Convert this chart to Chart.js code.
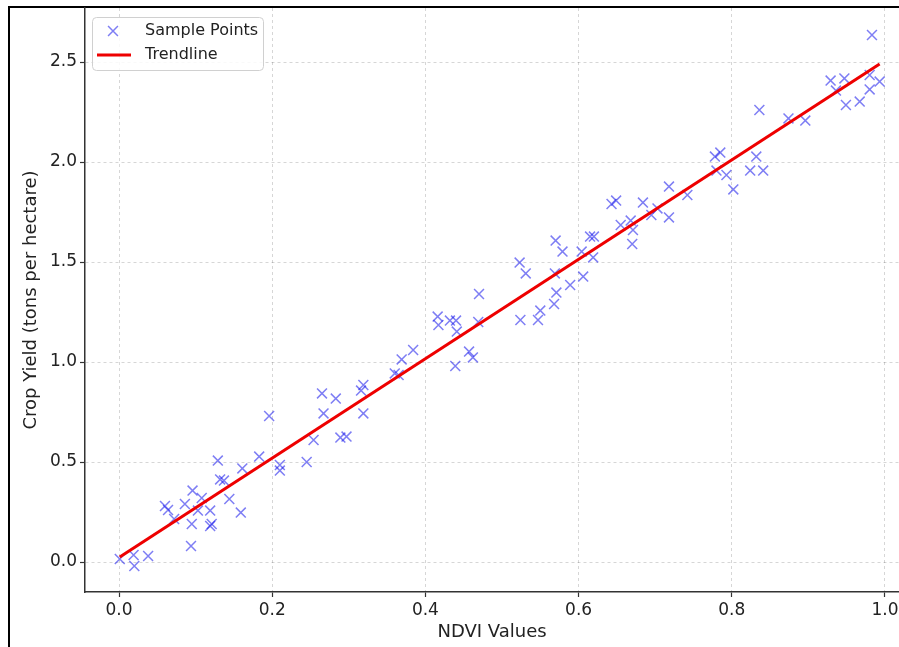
<!DOCTYPE html>
<html>
<head>
<meta charset="utf-8">
<script src="https://cdn.jsdelivr.net/npm/chart.js@4.4.1/dist/chart.umd.min.js"></script>
<style>
  html, body { margin: 0; padding: 0; background: #fff; }
  #wrap { position: relative; width: 899px; height: 647px; overflow: hidden; }
  #frame { position: absolute; left: 8px; top: 6px; right: -2px; bottom: -2px;
           border-left: 2px solid #000; border-top: 2px solid #000; }
  canvas { position: absolute; left: 0; top: 0; }
</style>
</head>
<body>
<div id="wrap">
  <div id="frame"></div>
  <canvas id="chart" width="899" height="647"></canvas>
</div>
<script>
// NDVI sample points
const ndvi = [
  0.001, 0.019, 0.020, 0.038, 0.094, 0.060, 0.064, 0.072, 0.086, 0.096,
  0.108, 0.103, 0.095, 0.119, 0.119, 0.121, 0.129, 0.132, 0.137, 0.144,
  0.159, 0.161, 0.183, 0.210, 0.210, 0.196, 0.245, 0.254, 0.265, 0.267,
  0.283, 0.289, 0.297, 0.316, 0.319, 0.319, 0.360, 0.365, 0.369, 0.384,
  0.416, 0.417, 0.432, 0.440, 0.441, 0.439, 0.457, 0.462, 0.469, 0.470,
  0.524, 0.523, 0.531, 0.547, 0.550, 0.568, 0.571, 0.569, 0.589, 0.606,
  0.570, 0.579, 0.604, 0.615, 0.620, 0.619, 0.655, 0.670, 0.671, 0.643,
  0.649, 0.668, 0.684, 0.695, 0.703, 0.718, 0.718, 0.742, 0.778, 0.785,
  0.780, 0.793, 0.802, 0.824, 0.832, 0.841, 0.836, 0.874, 0.896, 0.929,
  0.936, 0.947, 0.949, 0.967, 0.983, 0.980, 0.980, 0.993
];
const cropYield = [
  0.015, 0.035, -0.020, 0.030, 0.080, 0.280, 0.260, 0.215, 0.290, 0.357,
  0.320, 0.257, 0.190, 0.257, 0.180, 0.190, 0.507, 0.413, 0.407, 0.315,
  0.247, 0.468, 0.527, 0.485, 0.457, 0.730, 0.500, 0.610, 0.843, 0.743,
  0.817, 0.622, 0.627, 0.857, 0.885, 0.743, 0.943, 0.935, 1.013, 1.060,
  1.227, 1.185, 1.207, 1.207, 1.152, 0.980, 1.052, 1.023, 1.200, 1.340,
  1.210, 1.497, 1.443, 1.210, 1.257, 1.290, 1.347, 1.443, 1.385, 1.427,
  1.607, 1.552, 1.552, 1.627, 1.627, 1.523, 1.685, 1.590, 1.660, 1.790,
  1.807, 1.707, 1.797, 1.735, 1.768, 1.723, 1.877, 1.835, 2.027, 2.047,
  1.957, 1.935, 1.863, 1.957, 2.027, 1.957, 2.260, 2.218, 2.207, 2.407,
  2.357, 2.418, 2.285, 2.302, 2.635, 2.435, 2.363, 2.402
];

// trendline end points
const trendX = [0.001, 0.993];
const trendY = [0.025, 2.490];

const xTicks = [0.0, 0.2, 0.4, 0.6, 0.8, 1.0];
const yTicks = [0.0, 0.5, 1.0, 1.5, 2.0, 2.5];

const pointColor = 'rgba(20, 20, 235, 0.55)';
const lineColor = '#ee0000';

const points = ndvi.map((v, i) => ({ x: v, y: cropYield[i] }));
const trend = trendX.map((v, i) => ({ x: v, y: trendY[i] }));

// legend box inside the plot, matplotlib style
const boxLegend = {
  id: 'boxLegend',
  afterDraw(chart) {
    const ctx = chart.ctx;
    ctx.save();
    const x = 92, y = 17, w = 171, h = 53;
    ctx.fillStyle = 'rgba(255,255,255,0.85)';
    ctx.strokeStyle = '#d0d0d0';
    ctx.lineWidth = 1;
    ctx.beginPath();
    ctx.roundRect(x + 0.5, y + 0.5, w, h, 4);
    ctx.fill();
    ctx.stroke();

    ctx.strokeStyle = pointColor;
    ctx.fillStyle = pointColor;
    ctx.lineWidth = 1.5;
    Chart.helpers.drawPoint(ctx, {
      pointStyle: 'crossRot', radius: 7, borderWidth: 1.5, rotation: 0
    }, 113, 31);

    ctx.strokeStyle = lineColor;
    ctx.lineWidth = 3;
    ctx.beginPath();
    ctx.moveTo(97, 55);
    ctx.lineTo(131, 55);
    ctx.stroke();

    ctx.fillStyle = '#222';
    ctx.font = '16px "DejaVu Sans"';
    ctx.textBaseline = 'middle';
    ctx.fillText('Sample Points', 145, 31);
    ctx.fillText('Trendline', 145, 55);
    ctx.restore();
  }
};

function noPad(axis) {
  axis.paddingLeft = 0;
  axis.paddingRight = 0;
  axis.paddingTop = 0;
  axis.paddingBottom = 0;
}

const ctx = document.getElementById('chart').getContext('2d');
new Chart(ctx, {
  data: {
    datasets: [
      {
        type: 'line',
        label: 'Trendline',
        data: trend,
        borderColor: lineColor,
        borderWidth: 3,
        pointRadius: 0,
        fill: false
      },
      {
        type: 'scatter',
        label: 'Sample Points',
        data: points,
        pointStyle: 'crossRot',
        pointRadius: 7,
        pointHoverRadius: 7,
        borderColor: pointColor,
        backgroundColor: pointColor,
        borderWidth: 1.5
      }
    ]
  },
  options: {
    responsive: false,
    animation: false,
    devicePixelRatio: 1,
    layout: { autoPadding: false, padding: { left: 0, top: 8, right: 0, bottom: 0 } },
    plugins: {
      legend: { display: false },
      tooltip: { enabled: false }
    },
    scales: {
      x: {
        type: 'linear',
        min: -0.0444,
        max: 1.0183,
        afterBuildTicks: (axis) => { axis.ticks = xTicks.map(v => ({ value: v })); },
        afterFit: (axis) => { axis.height = 55; noPad(axis); },
        ticks: {
          color: '#222',
          padding: 3,
          maxRotation: 0,
          autoSkip: false,
          font: { family: 'DejaVu Sans', size: 17 },
          callback: (v) => Number(v).toFixed(1)
        },
        grid: {
          color: 'rgba(0,0,0,0.16)',
          tickColor: '#333',
          tickLength: 5,
          tickWidth: 1.2
        },
        border: { color: '#333', width: 1.5, dash: [3, 3] },
        title: {
          display: true,
          text: 'NDVI Values',
          color: '#222',
          font: { family: 'DejaVu Sans', size: 18 },
          padding: { top: 0, bottom: 4 }
        }
      },
      y: {
        type: 'linear',
        min: -0.15,
        max: 2.77,
        afterBuildTicks: (axis) => { axis.ticks = yTicks.map(v => ({ value: v })); },
        afterFit: (axis) => { axis.width = 85; noPad(axis); },
        ticks: {
          color: '#222',
          padding: 3,
          autoSkip: false,
          font: { family: 'DejaVu Sans', size: 17 },
          callback: (v) => Number(v).toFixed(1)
        },
        grid: {
          color: 'rgba(0,0,0,0.16)',
          tickColor: '#333',
          tickLength: 5,
          tickWidth: 1.2
        },
        border: { color: '#333', width: 1.5, dash: [3, 3] },
        title: {
          display: true,
          text: 'Crop Yield (tons per hectare)',
          color: '#222',
          font: { family: 'DejaVu Sans', size: 18 },
          padding: { top: 21, bottom: 0 }
        }
      }
    }
  },
  plugins: [boxLegend]
});
</script>
</body>
</html>
